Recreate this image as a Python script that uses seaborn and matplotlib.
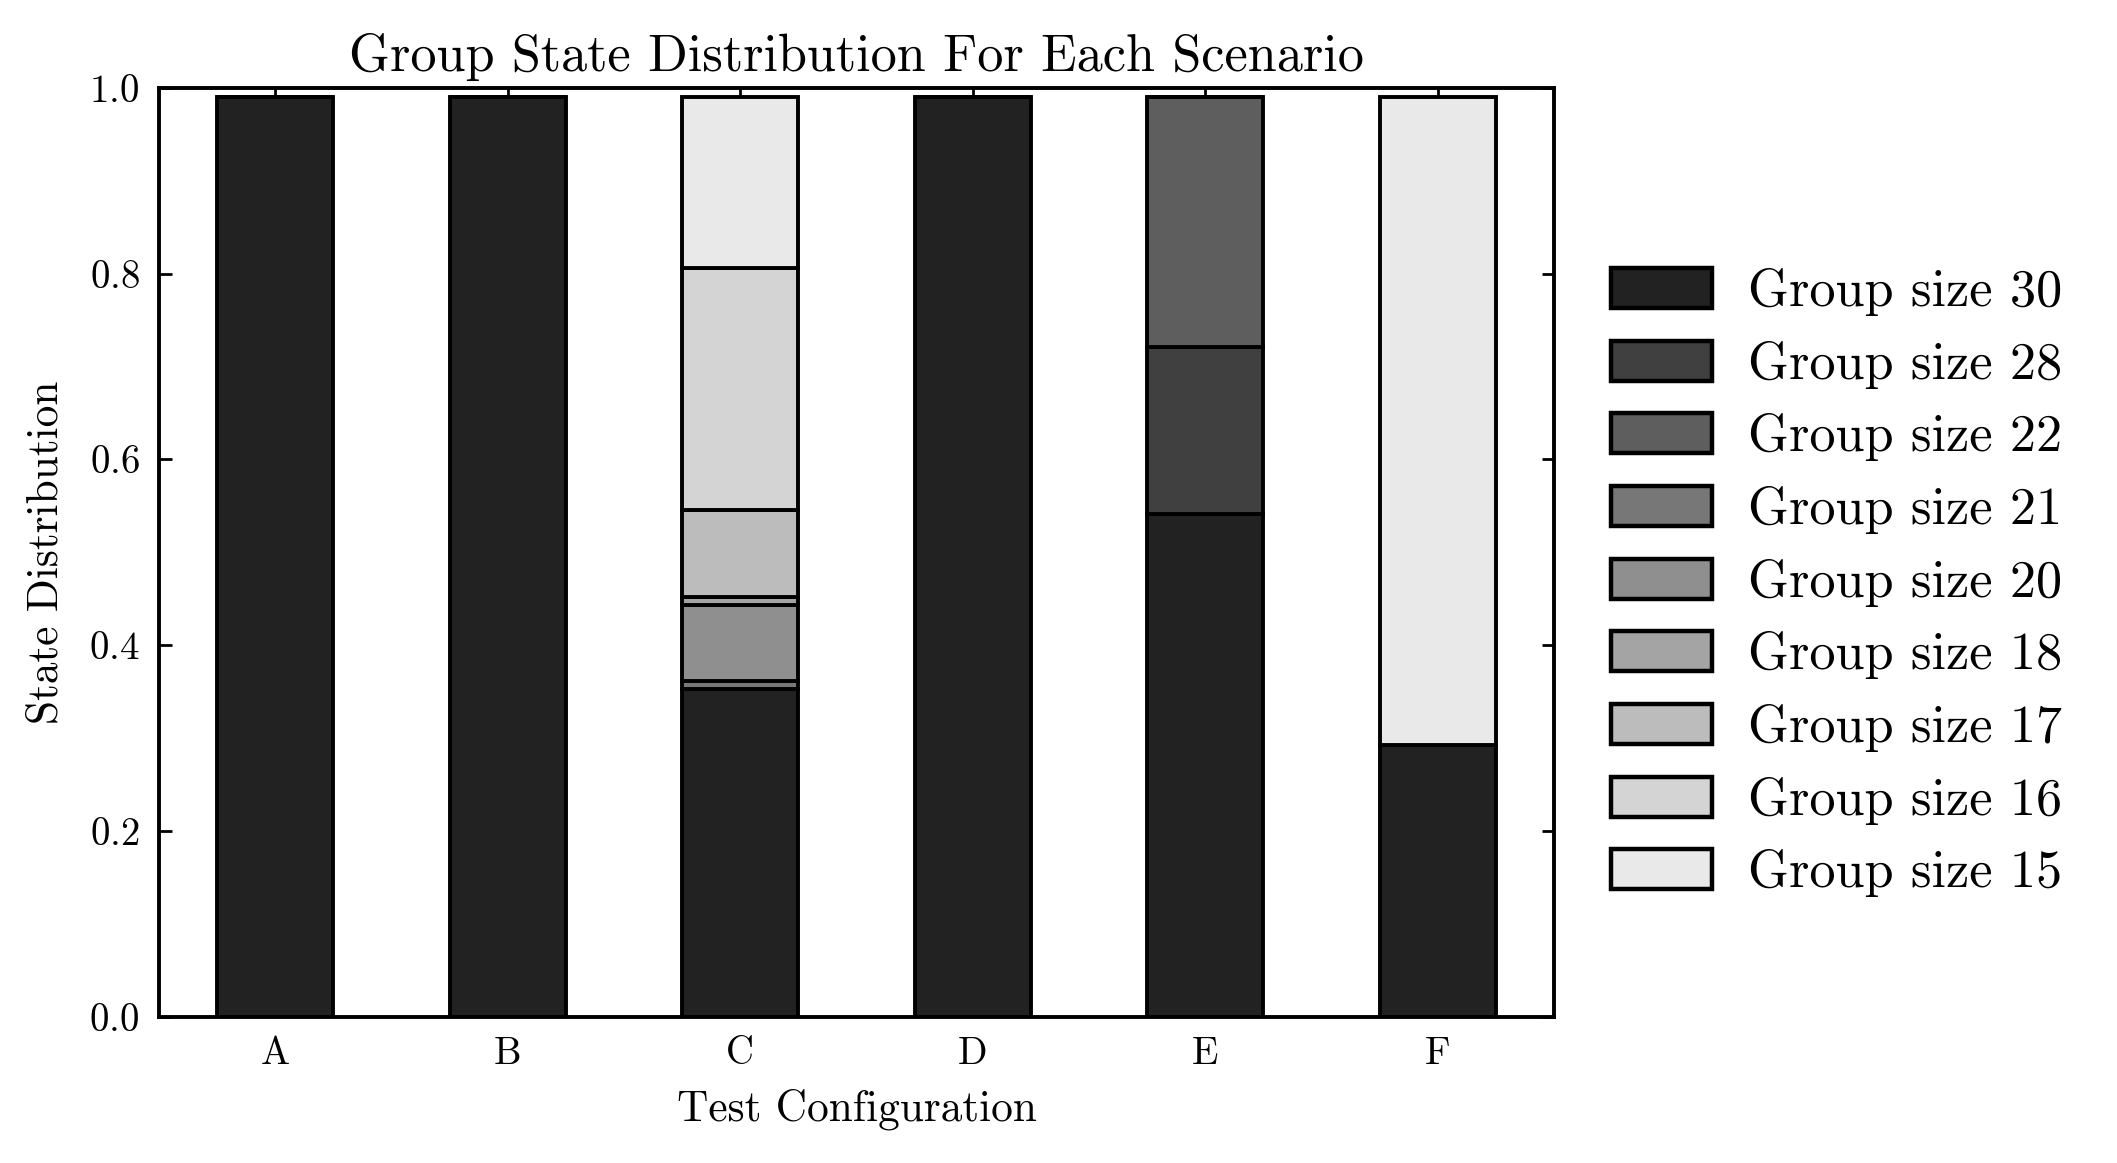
import numpy as np
import pandas as pd
import seaborn as sns
import matplotlib.pyplot as plt
from matplotlib.patches import Patch

configs = ["A", "B", "C", "D", "E", "F"]
group_sizes = [30, 28, 22, 21, 20, 18, 17, 16, 15]

# share of each group size per configuration
size_30 = [0.99, 0.99, 0.353, 0.99, 0.541, 0.292]
size_28 = [0.0, 0.0, 0.0, 0.0, 0.180, 0.0]
size_22 = [0.0, 0.0, 0.0, 0.0, 0.269, 0.0]
size_21 = [0.0, 0.0, 0.008, 0.0, 0.0, 0.0]
size_20 = [0.0, 0.0, 0.082, 0.0, 0.0, 0.0]
size_18 = [0.0, 0.0, 0.009, 0.0, 0.0, 0.0]
size_17 = [0.0, 0.0, 0.094, 0.0, 0.0, 0.0]
size_16 = [0.0, 0.0, 0.260, 0.0, 0.0, 0.0]
size_15 = [0.0, 0.0, 0.184, 0.0, 0.0, 0.698]

greys = ["#222222", "#404040", "#5e5e5e", "#777777", "#8f8f8f",
         "#a4a4a4", "#bcbcbc", "#d4d4d4", "#e9e9e9"]

shares = [size_30, size_28, size_22, size_21, size_20,
          size_18, size_17, size_16, size_15]
labels = [f"Group size {g}" for g in group_sizes]

rows = []
for label, values in zip(labels, shares):
    for config, value in zip(configs, values):
        rows.append({"config": config, "group": label, "share": value})
df = pd.DataFrame(rows)

sns.set_theme(style="ticks")
plt.rcParams.update({
    "font.family": ["cmr10"],
    "mathtext.fontset": "cm",
    "axes.formatter.use_mathtext": True,
    "axes.edgecolor": "black",
    "axes.linewidth": 1.4,
    "xtick.direction": "in",
    "ytick.direction": "in",
    "xtick.top": True,
    "ytick.right": True,
    "xtick.major.size": 4.5,
    "ytick.major.size": 4.5,
    "xtick.major.width": 1.0,
    "ytick.major.width": 1.0,
    "xtick.major.pad": 7,
    "ytick.major.pad": 7,
    "xtick.color": "black",
    "ytick.color": "black",
    "text.color": "black",
    "axes.labelcolor": "black",
})

fig = plt.figure(figsize=(10.585, 5.815), dpi=200)
ax = fig.add_axes([0.0751, 0.1258, 0.659, 0.7987])

# stacked bars: the last hue level sits at the bottom
sns.histplot(
    data=df, x="config", weights="share", hue="group",
    hue_order=labels[::-1], palette=dict(zip(labels, greys)),
    multiple="stack", discrete=True, shrink=0.5,
    edgecolor="black", linewidth=1.4, alpha=1, legend=False, ax=ax,
)

ax.set_xlim(-0.5, 5.5)
ax.set_ylim(0, 1.0)
ax.set_xticks(range(len(configs)))
ax.set_xticklabels(configs)
ax.set_yticks(np.arange(0, 1.01, 0.2))
ax.tick_params(labelsize=14)
ax.set_title("Group State Distribution For Each Scenario", fontsize=18.8, pad=6)
ax.set_xlabel("Test Configuration", fontsize=15.6, labelpad=6)
ax.set_ylabel("State Distribution", fontsize=15.6, labelpad=8)

handles = [Patch(facecolor=c, edgecolor="black", linewidth=1.6, label=l)
           for c, l in zip(greys, labels)]
fig.legend(handles=handles, loc="center left", bbox_to_anchor=(0.739, 0.499),
           frameon=False, fontsize=18.8, handlelength=1.92, handleheight=0.8,
           handletextpad=0.7, labelspacing=0.47)

fig.savefig("out.png", dpi=200)
